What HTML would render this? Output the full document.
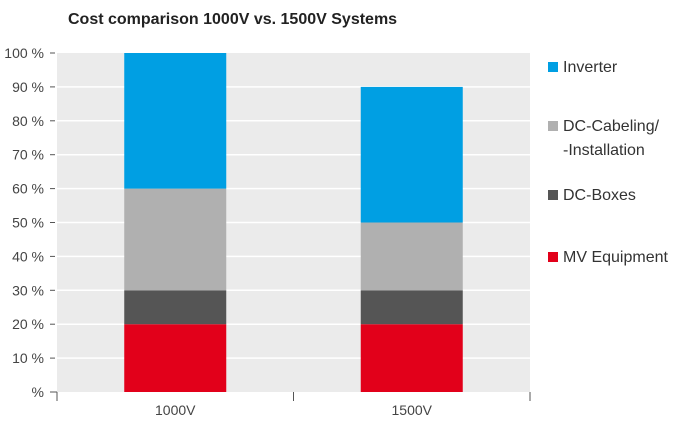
<!DOCTYPE html>
<html><head><meta charset="utf-8"><style>
body{margin:0;background:#fff;font-family:"Liberation Sans",sans-serif;}
</style></head><body>
<svg width="696" height="422" xmlns="http://www.w3.org/2000/svg">
<text x="68" y="24" font-size="16" font-weight="bold" fill="#222">Cost comparison 1000V vs. 1500V Systems</text>
<rect x="57" y="53" width="473" height="339" fill="#ebebeb"/>
<g id="grid"></g><g id="bars"></g><g id="axes"></g><g id="legend"></g>
</svg>
<script>
const categories=["1000V","1500V"];
const seriesNames=["MV Equipment","DC-Boxes","DC-Cabeling/\n-Installation","Inverter"];
const seriesColors=["#e2001a","#555555","#b0b0b0","#009fe3"];
const mv=[20,20];
const boxes=[10,10];
const cabling=[30,20];
const inverter=[40,40];
const yTicks=[0,10,20,30,40,50,60,70,80,90,100];
const ns="http://www.w3.org/2000/svg";
const L=57,R=530,T=53,B=392;
function y(v){return B-(v/100)*(B-T);}
function xc(i){return L+(R-L)*(i+0.5)/categories.length;}
function mk(t,a,p){const e=document.createElementNS(ns,t);for(const k in a)e.setAttribute(k,a[k]);p.appendChild(e);return e;}
const grid=document.getElementById('grid'),bars=document.getElementById('bars'),axes=document.getElementById('axes'),leg=document.getElementById('legend');
yTicks.forEach(v=>{
 if(v>0&&v<100){const g=mk('line',{x1:L,x2:R,y1:y(v),y2:y(v),stroke:'#fff','stroke-width':1.5},grid);
 
 }
 const t=mk('line',{x1:50,x2:55,y1:y(v),y2:y(v),stroke:'#555'},axes);
 
 
 const tx=mk('text',{x:44,y:y(v)+5,'text-anchor':'end','font-size':14,fill:'#444'},axes);
 tx.textContent=(v===0?'':v)+' %';
 
 
});
mk('line',{x1:55,x2:57,y1:B,y2:B,stroke:'#555'},axes);
[0,1,2].forEach(i=>{const t=mk('line',{x1:L+(R-L)*i/2,x2:L+(R-L)*i/2,y1:B,y2:B+9,stroke:'#555'},axes);
 
 });
const series=[mv,boxes,cabling,inverter];
const bw=102;
categories.forEach((c,i)=>{
 let base=0;
 series.forEach((s,k)=>{
  const r=mk('rect',{x:xc(i)-bw/2,y:y(base+s[i]),width:bw,height:y(base)-y(base+s[i]),fill:seriesColors[k]},bars);
  
  
  base+=s[i];
 });
 const t=mk('text',{x:xc(i),y:415,'text-anchor':'middle','font-size':14,fill:'#444'},axes);
 t.textContent=c;
 
 
});
const legY=[262,200,131,72];
series.forEach((s,k)=>{
 const g=mk('g',{},leg);
 
 
 mk('rect',{x:548,y:legY[k]-10,width:10,height:10,fill:seriesColors[k]},g);
 seriesNames[k].split('\n').forEach((ln,j)=>{
  const t=mk('text',{x:563,y:legY[k]+j*24,'font-size':16,fill:'#333'},g);
  t.textContent=ln;
 });
});
</script>
</body></html>
